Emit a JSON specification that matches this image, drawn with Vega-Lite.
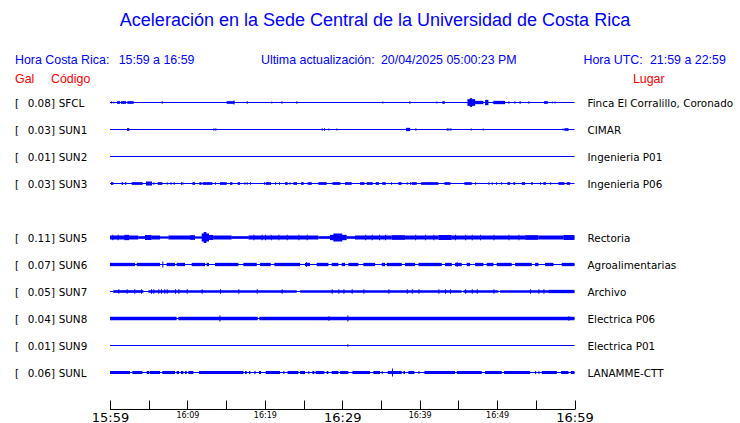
{
  "$schema": "https://vega.github.io/schema/vega-lite/v6.json",
  "width": 740,
  "height": 423,
  "autosize": "none",
  "padding": 0,
  "background": "white",
  "data": {"values": [{}]},
  "datasets": {
    "stations": [
      {"s": "SFCL", "r": 0, "gal": 0.08, "lugar": "Finca El Corralillo, Coronado"},
      {"s": "SUN1", "r": 1, "gal": 0.03, "lugar": "CIMAR"},
      {"s": "SUN2", "r": 2, "gal": 0.01, "lugar": "Ingenieria P01"},
      {"s": "SUN3", "r": 3, "gal": 0.03, "lugar": "Ingenieria P06"},
      {"s": "SUN5", "r": 5, "gal": 0.11, "lugar": "Rectoria"},
      {"s": "SUN6", "r": 6, "gal": 0.07, "lugar": "Agroalimentarias"},
      {"s": "SUN7", "r": 7, "gal": 0.05, "lugar": "Archivo"},
      {"s": "SUN8", "r": 8, "gal": 0.04, "lugar": "Electrica P06"},
      {"s": "SUN9", "r": 9, "gal": 0.01, "lugar": "Electrica P01"},
      {"s": "SUNL", "r": 10, "gal": 0.06, "lugar": "LANAMME-CTT"}
    ],
    "seg": [
      {"s": "SFCL", "t0": 0.13, "t1": 0.26, "pp": 2},
      {"s": "SFCL", "t0": 0.43, "t1": 0.56, "pp": 2},
      {"s": "SFCL", "t0": 0.9, "t1": 1.29, "pp": 2.7},
      {"s": "SFCL", "t0": 1.42, "t1": 2.07, "pp": 2.7},
      {"s": "SFCL", "t0": 2.24, "t1": 3.06, "pp": 2.7},
      {"s": "SFCL", "t0": 6.68, "t1": 6.81, "pp": 2.7},
      {"s": "SFCL", "t0": 15.07, "t1": 16.06, "pp": 2.7},
      {"s": "SFCL", "t0": 15.95, "t1": 16.08, "pp": 4},
      {"s": "SFCL", "t0": 17.66, "t1": 17.79, "pp": 2.7},
      {"s": "SFCL", "t0": 20.84, "t1": 20.97, "pp": 2},
      {"s": "SFCL", "t0": 22.14, "t1": 22.27, "pp": 2.7},
      {"s": "SFCL", "t0": 24.07, "t1": 24.2, "pp": 2.7},
      {"s": "SFCL", "t0": 35.18, "t1": 35.31, "pp": 2},
      {"s": "SFCL", "t0": 38.67, "t1": 38.8, "pp": 2.7},
      {"s": "SFCL", "t0": 42.16, "t1": 42.29, "pp": 2},
      {"s": "SFCL", "t0": 42.94, "t1": 43.24, "pp": 2.7},
      {"s": "SFCL", "t0": 46.17, "t1": 47.16, "pp": 6.7},
      {"s": "SFCL", "t0": 46.48, "t1": 46.79, "pp": 8.7},
      {"s": "SFCL", "t0": 47.16, "t1": 48.23, "pp": 3.3},
      {"s": "SFCL", "t0": 48.45, "t1": 48.88, "pp": 5.3},
      {"s": "SFCL", "t0": 49.44, "t1": 49.57, "pp": 2},
      {"s": "SFCL", "t0": 49.53, "t1": 51.03, "pp": 3.3},
      {"s": "SFCL", "t0": 51.46, "t1": 51.59, "pp": 2.7},
      {"s": "SFCL", "t0": 52.24, "t1": 52.37, "pp": 2.7},
      {"s": "SFCL", "t0": 52.89, "t1": 53.06, "pp": 2.7},
      {"s": "SFCL", "t0": 54.05, "t1": 54.18, "pp": 2.7},
      {"s": "SFCL", "t0": 56.07, "t1": 56.55, "pp": 2.7},
      {"s": "SFCL", "t0": 57.06, "t1": 57.19, "pp": 2},
      {"s": "SFCL", "t0": 57.41, "t1": 57.54, "pp": 2},

      {"s": "SUN1", "t0": 2.2, "t1": 2.5, "pp": 2.7},
      {"s": "SUN1", "t0": 13.35, "t1": 13.48, "pp": 2.7},
      {"s": "SUN1", "t0": 13.61, "t1": 13.74, "pp": 2.7},
      {"s": "SUN1", "t0": 27.35, "t1": 27.48, "pp": 2.7},
      {"s": "SUN1", "t0": 27.65, "t1": 27.78, "pp": 2.7},
      {"s": "SUN1", "t0": 28.21, "t1": 28.34, "pp": 2},
      {"s": "SUN1", "t0": 29.24, "t1": 29.37, "pp": 2},
      {"s": "SUN1", "t0": 38.24, "t1": 38.76, "pp": 3.3},
      {"s": "SUN1", "t0": 39.45, "t1": 39.58, "pp": 2.7},
      {"s": "SUN1", "t0": 43.5, "t1": 43.63, "pp": 2.7},
      {"s": "SUN1", "t0": 43.71, "t1": 43.84, "pp": 2.7},
      {"s": "SUN1", "t0": 43.97, "t1": 44.1, "pp": 2.7},
      {"s": "SUN1", "t0": 46.6, "t1": 46.73, "pp": 2},
      {"s": "SUN1", "t0": 48.15, "t1": 48.28, "pp": 2},
      {"s": "SUN1", "t0": 58.44, "t1": 58.57, "pp": 2},
      {"s": "SUN1", "t0": 58.7, "t1": 59.22, "pp": 2.7},

      {"s": "SUN3", "t0": 0.13, "t1": 0.43, "pp": 2.7},
      {"s": "SUN3", "t0": 1.51, "t1": 1.72, "pp": 2.7},
      {"s": "SUN3", "t0": 1.94, "t1": 2.11, "pp": 2.7},
      {"s": "SUN3", "t0": 2.8, "t1": 4.22, "pp": 2.7},
      {"s": "SUN3", "t0": 4.65, "t1": 5.43, "pp": 4},
      {"s": "SUN3", "t0": 5.6, "t1": 5.73, "pp": 2.7},
      {"s": "SUN3", "t0": 6.16, "t1": 6.76, "pp": 2.7},
      {"s": "SUN3", "t0": 7.32, "t1": 7.45, "pp": 2.7},
      {"s": "SUN3", "t0": 7.8, "t1": 7.93, "pp": 2.7},
      {"s": "SUN3", "t0": 8.23, "t1": 8.36, "pp": 2.7},
      {"s": "SUN3", "t0": 9.17, "t1": 9.3, "pp": 2.7},
      {"s": "SUN3", "t0": 9.35, "t1": 9.48, "pp": 2.7},
      {"s": "SUN3", "t0": 10.64, "t1": 10.98, "pp": 2.7},
      {"s": "SUN3", "t0": 11.54, "t1": 11.84, "pp": 2.7},
      {"s": "SUN3", "t0": 11.97, "t1": 13.22, "pp": 2.7},
      {"s": "SUN3", "t0": 13.57, "t1": 13.7, "pp": 2.7},
      {"s": "SUN3", "t0": 14.21, "t1": 15.07, "pp": 2.7},
      {"s": "SUN3", "t0": 15.5, "t1": 15.81, "pp": 2.7},
      {"s": "SUN3", "t0": 16.49, "t1": 16.8, "pp": 2.7},
      {"s": "SUN3", "t0": 17.36, "t1": 17.49, "pp": 2.7},
      {"s": "SUN3", "t0": 17.66, "t1": 17.79, "pp": 2.7},
      {"s": "SUN3", "t0": 18.09, "t1": 18.22, "pp": 2.7},
      {"s": "SUN3", "t0": 19.9, "t1": 20.03, "pp": 2.7},
      {"s": "SUN3", "t0": 20.11, "t1": 20.8, "pp": 2.7},
      {"s": "SUN3", "t0": 21.32, "t1": 21.45, "pp": 2.7},
      {"s": "SUN3", "t0": 21.83, "t1": 21.96, "pp": 2.7},
      {"s": "SUN3", "t0": 22.61, "t1": 22.96, "pp": 2.7},
      {"s": "SUN3", "t0": 23.17, "t1": 23.3, "pp": 2.7},
      {"s": "SUN3", "t0": 23.69, "t1": 24.16, "pp": 2.7},
      {"s": "SUN3", "t0": 24.68, "t1": 25.02, "pp": 2.7},
      {"s": "SUN3", "t0": 25.54, "t1": 26.06, "pp": 2.7},
      {"s": "SUN3", "t0": 26.92, "t1": 27.99, "pp": 2.7},
      {"s": "SUN3", "t0": 28.73, "t1": 29.76, "pp": 2.7},
      {"s": "SUN3", "t0": 30.36, "t1": 31.22, "pp": 2.7},
      {"s": "SUN3", "t0": 32.3, "t1": 32.86, "pp": 2.7},
      {"s": "SUN3", "t0": 33.16, "t1": 33.94, "pp": 2.7},
      {"s": "SUN3", "t0": 34.32, "t1": 34.75, "pp": 2.7},
      {"s": "SUN3", "t0": 35.18, "t1": 35.62, "pp": 2.7},
      {"s": "SUN3", "t0": 36.3, "t1": 36.43, "pp": 2.7},
      {"s": "SUN3", "t0": 37.25, "t1": 37.68, "pp": 2.7},
      {"s": "SUN3", "t0": 38.33, "t1": 38.46, "pp": 2.7},
      {"s": "SUN3", "t0": 38.76, "t1": 38.89, "pp": 2.7},
      {"s": "SUN3", "t0": 38.98, "t1": 39.62, "pp": 2.7},
      {"s": "SUN3", "t0": 40.18, "t1": 42.42, "pp": 2.7},
      {"s": "SUN3", "t0": 43.2, "t1": 43.97, "pp": 2.7},
      {"s": "SUN3", "t0": 45.78, "t1": 46.73, "pp": 2.7},
      {"s": "SUN3", "t0": 47.16, "t1": 47.29, "pp": 2.7},
      {"s": "SUN3", "t0": 48.88, "t1": 49.01, "pp": 2.7},
      {"s": "SUN3", "t0": 49.31, "t1": 49.44, "pp": 2.7},
      {"s": "SUN3", "t0": 49.87, "t1": 50.0, "pp": 2.7},
      {"s": "SUN3", "t0": 50.52, "t1": 50.65, "pp": 2.7},
      {"s": "SUN3", "t0": 51.33, "t1": 51.68, "pp": 2.7},
      {"s": "SUN3", "t0": 52.11, "t1": 52.33, "pp": 2.7},
      {"s": "SUN3", "t0": 53.19, "t1": 53.62, "pp": 2.7},
      {"s": "SUN3", "t0": 54.39, "t1": 54.61, "pp": 2.7},
      {"s": "SUN3", "t0": 55.56, "t1": 55.69, "pp": 2.7},
      {"s": "SUN3", "t0": 55.99, "t1": 56.29, "pp": 2.7},
      {"s": "SUN3", "t0": 56.85, "t1": 56.98, "pp": 2.7},
      {"s": "SUN3", "t0": 57.92, "t1": 58.7, "pp": 2.7},
      {"s": "SUN3", "t0": 59.0, "t1": 59.43, "pp": 2.7},

      {"s": "SUN5", "t0": 0, "t1": 3.66, "pp": 4},
      {"s": "SUN5", "t0": 3.66, "t1": 4.52, "pp": 2.7},
      {"s": "SUN5", "t0": 4.52, "t1": 5.38, "pp": 5},
      {"s": "SUN5", "t0": 5.38, "t1": 6.46, "pp": 4},
      {"s": "SUN5", "t0": 6.46, "t1": 7.54, "pp": 2.3},
      {"s": "SUN5", "t0": 7.54, "t1": 10.34, "pp": 4},
      {"s": "SUN5", "t0": 10.34, "t1": 10.98, "pp": 4.7},
      {"s": "SUN5", "t0": 10.98, "t1": 11.84, "pp": 2.3},
      {"s": "SUN5", "t0": 11.84, "t1": 12.79, "pp": 8},
      {"s": "SUN5", "t0": 12.1, "t1": 12.45, "pp": 11},
      {"s": "SUN5", "t0": 12.79, "t1": 13.35, "pp": 5},
      {"s": "SUN5", "t0": 13.35, "t1": 15.72, "pp": 4},
      {"s": "SUN5", "t0": 15.72, "t1": 17.87, "pp": 2.7},
      {"s": "SUN5", "t0": 17.87, "t1": 26.92, "pp": 4},
      {"s": "SUN5", "t0": 26.92, "t1": 28.42, "pp": 2.7},
      {"s": "SUN5", "t0": 28.42, "t1": 30.58, "pp": 5.3},
      {"s": "SUN5", "t0": 28.85, "t1": 30.0, "pp": 8},
      {"s": "SUN5", "t0": 30.58, "t1": 31.65, "pp": 2.7},
      {"s": "SUN5", "t0": 31.65, "t1": 36.39, "pp": 4},
      {"s": "SUN5", "t0": 36.39, "t1": 38.11, "pp": 4.7},
      {"s": "SUN5", "t0": 38.11, "t1": 42.42, "pp": 4},
      {"s": "SUN5", "t0": 42.42, "t1": 44.14, "pp": 5},
      {"s": "SUN5", "t0": 44.14, "t1": 53.62, "pp": 4},
      {"s": "SUN5", "t0": 53.62, "t1": 55.34, "pp": 4.7},
      {"s": "SUN5", "t0": 55.34, "t1": 58.57, "pp": 4},
      {"s": "SUN5", "t0": 58.57, "t1": 60, "pp": 5},
      {"s": "SUN5", "t0": 0.3, "t1": 0.43, "pp": 5.3},
      {"s": "SUN5", "t0": 0.99, "t1": 1.12, "pp": 5.3},
      {"s": "SUN5", "t0": 1.85, "t1": 2.45, "pp": 5.3},
      {"s": "SUN5", "t0": 18.52, "t1": 18.65, "pp": 5.7},
      {"s": "SUN5", "t0": 19.59, "t1": 19.72, "pp": 5.7},
      {"s": "SUN5", "t0": 20.03, "t1": 20.16, "pp": 5.7},
      {"s": "SUN5", "t0": 20.76, "t1": 20.89, "pp": 5.7},
      {"s": "SUN5", "t0": 21.75, "t1": 21.88, "pp": 5.7},
      {"s": "SUN5", "t0": 22.83, "t1": 22.96, "pp": 5.7},
      {"s": "SUN5", "t0": 24.33, "t1": 24.46, "pp": 5.7},
      {"s": "SUN5", "t0": 25.41, "t1": 25.54, "pp": 5.7},
      {"s": "SUN5", "t0": 32.95, "t1": 33.08, "pp": 5.7},
      {"s": "SUN5", "t0": 33.81, "t1": 33.94, "pp": 5.7},
      {"s": "SUN5", "t0": 34.75, "t1": 34.88, "pp": 5.7},
      {"s": "SUN5", "t0": 35.53, "t1": 35.66, "pp": 5.7},
      {"s": "SUN5", "t0": 39.41, "t1": 39.54, "pp": 5.7},
      {"s": "SUN5", "t0": 40.7, "t1": 40.83, "pp": 5.7},
      {"s": "SUN5", "t0": 41.77, "t1": 41.9, "pp": 5.7},
      {"s": "SUN5", "t0": 44.57, "t1": 44.7, "pp": 5.7},
      {"s": "SUN5", "t0": 45.87, "t1": 46.0, "pp": 5.7},
      {"s": "SUN5", "t0": 46.73, "t1": 46.86, "pp": 5.7},
      {"s": "SUN5", "t0": 47.8, "t1": 47.93, "pp": 5.7},
      {"s": "SUN5", "t0": 49.53, "t1": 49.66, "pp": 5.7},
      {"s": "SUN5", "t0": 51.46, "t1": 51.59, "pp": 5.7},
      {"s": "SUN5", "t0": 52.76, "t1": 52.89, "pp": 5.7},

      {"s": "SUN6", "t0": 0, "t1": 3.23, "pp": 3.3},
      {"s": "SUN6", "t0": 3.45, "t1": 6.46, "pp": 3.3},
      {"s": "SUN6", "t0": 6.76, "t1": 6.89, "pp": 6},
      {"s": "SUN6", "t0": 7.32, "t1": 8.4, "pp": 3.3},
      {"s": "SUN6", "t0": 8.61, "t1": 9.69, "pp": 3.3},
      {"s": "SUN6", "t0": 10.55, "t1": 12.27, "pp": 3.3},
      {"s": "SUN6", "t0": 12.49, "t1": 12.79, "pp": 3.3},
      {"s": "SUN6", "t0": 13.57, "t1": 16.58, "pp": 3.3},
      {"s": "SUN6", "t0": 17.23, "t1": 18.95, "pp": 3.3},
      {"s": "SUN6", "t0": 19.38, "t1": 20.76, "pp": 3.3},
      {"s": "SUN6", "t0": 21.23, "t1": 24.55, "pp": 3.3},
      {"s": "SUN6", "t0": 25.19, "t1": 25.84, "pp": 3.3},
      {"s": "SUN6", "t0": 25.32, "t1": 25.45, "pp": 4.3},
      {"s": "SUN6", "t0": 26.7, "t1": 28.21, "pp": 3.3},
      {"s": "SUN6", "t0": 28.64, "t1": 29.5, "pp": 3.3},
      {"s": "SUN6", "t0": 29.93, "t1": 30.36, "pp": 3.3},
      {"s": "SUN6", "t0": 30.79, "t1": 32.08, "pp": 3.3},
      {"s": "SUN6", "t0": 32.73, "t1": 34.24, "pp": 3.3},
      {"s": "SUN6", "t0": 35.1, "t1": 35.53, "pp": 3.3},
      {"s": "SUN6", "t0": 35.75, "t1": 37.68, "pp": 3.3},
      {"s": "SUN6", "t0": 38.11, "t1": 39.41, "pp": 3.3},
      {"s": "SUN6", "t0": 39.84, "t1": 42.85, "pp": 3.3},
      {"s": "SUN6", "t0": 43.28, "t1": 44.14, "pp": 3.3},
      {"s": "SUN6", "t0": 44.57, "t1": 45.43, "pp": 3.3},
      {"s": "SUN6", "t0": 44.79, "t1": 44.92, "pp": 4.3},
      {"s": "SUN6", "t0": 46.08, "t1": 46.51, "pp": 3.3},
      {"s": "SUN6", "t0": 47.16, "t1": 48.23, "pp": 3.3},
      {"s": "SUN6", "t0": 48.66, "t1": 49.53, "pp": 3.3},
      {"s": "SUN6", "t0": 49.96, "t1": 51.89, "pp": 3.3},
      {"s": "SUN6", "t0": 52.33, "t1": 54.48, "pp": 3.3},
      {"s": "SUN6", "t0": 54.91, "t1": 55.34, "pp": 3.3},
      {"s": "SUN6", "t0": 56.2, "t1": 57.28, "pp": 3.3},
      {"s": "SUN6", "t0": 58.35, "t1": 60, "pp": 3.3},

      {"s": "SUN7", "t0": 0.43, "t1": 4.31, "pp": 2.7},
      {"s": "SUN7", "t0": 4.95, "t1": 24.12, "pp": 2.7},
      {"s": "SUN7", "t0": 24.55, "t1": 45.43, "pp": 2.7},
      {"s": "SUN7", "t0": 45.65, "t1": 50.17, "pp": 2.7},
      {"s": "SUN7", "t0": 50.39, "t1": 56.63, "pp": 2.7},
      {"s": "SUN7", "t0": 56.63, "t1": 60, "pp": 3.3},
      {"s": "SUN7", "t0": 1.08, "t1": 1.21, "pp": 4.7},
      {"s": "SUN7", "t0": 2.15, "t1": 2.28, "pp": 4.7},
      {"s": "SUN7", "t0": 3.14, "t1": 3.27, "pp": 4.7},
      {"s": "SUN7", "t0": 4.01, "t1": 4.14, "pp": 4.7},
      {"s": "SUN7", "t0": 5.3, "t1": 5.43, "pp": 4.7},
      {"s": "SUN7", "t0": 5.6, "t1": 5.73, "pp": 4.7},
      {"s": "SUN7", "t0": 6.24, "t1": 6.37, "pp": 4.7},
      {"s": "SUN7", "t0": 6.59, "t1": 6.72, "pp": 4.7},
      {"s": "SUN7", "t0": 7.02, "t1": 7.15, "pp": 4.7},
      {"s": "SUN7", "t0": 7.32, "t1": 7.45, "pp": 4.7},
      {"s": "SUN7", "t0": 8.4, "t1": 8.53, "pp": 4.7},
      {"s": "SUN7", "t0": 8.83, "t1": 8.96, "pp": 4.7},
      {"s": "SUN7", "t0": 9.91, "t1": 10.04, "pp": 4.7},
      {"s": "SUN7", "t0": 11.84, "t1": 11.97, "pp": 4.7},
      {"s": "SUN7", "t0": 14.21, "t1": 14.34, "pp": 4.7},
      {"s": "SUN7", "t0": 16.58, "t1": 16.71, "pp": 4.7},
      {"s": "SUN7", "t0": 18.95, "t1": 19.08, "pp": 4.7},
      {"s": "SUN7", "t0": 22.18, "t1": 22.31, "pp": 4.7},
      {"s": "SUN7", "t0": 28.64, "t1": 28.77, "pp": 4.7},
      {"s": "SUN7", "t0": 29.5, "t1": 29.63, "pp": 4.7},
      {"s": "SUN7", "t0": 30.15, "t1": 30.28, "pp": 4.7},
      {"s": "SUN7", "t0": 31.22, "t1": 31.35, "pp": 4.7},
      {"s": "SUN7", "t0": 32.73, "t1": 32.86, "pp": 4.7},
      {"s": "SUN7", "t0": 35.96, "t1": 36.09, "pp": 4.7},
      {"s": "SUN7", "t0": 38.33, "t1": 38.46, "pp": 4.7},
      {"s": "SUN7", "t0": 38.98, "t1": 39.11, "pp": 4.7},
      {"s": "SUN7", "t0": 39.84, "t1": 39.97, "pp": 4.7},
      {"s": "SUN7", "t0": 42.42, "t1": 42.55, "pp": 4.7},
      {"s": "SUN7", "t0": 43.28, "t1": 43.41, "pp": 4.7},
      {"s": "SUN7", "t0": 43.93, "t1": 44.06, "pp": 4.7},
      {"s": "SUN7", "t0": 45.87, "t1": 46.0, "pp": 4.7},
      {"s": "SUN7", "t0": 46.73, "t1": 46.86, "pp": 4.7},
      {"s": "SUN7", "t0": 47.37, "t1": 47.5, "pp": 4.7},
      {"s": "SUN7", "t0": 49.53, "t1": 49.66, "pp": 4.7},
      {"s": "SUN7", "t0": 54.26, "t1": 54.39, "pp": 4.7},
      {"s": "SUN7", "t0": 55.34, "t1": 55.47, "pp": 4.7},
      {"s": "SUN7", "t0": 55.99, "t1": 56.12, "pp": 4.7},

      {"s": "SUN8", "t0": 0, "t1": 8.61, "pp": 3.7},
      {"s": "SUN8", "t0": 8.83, "t1": 19.08, "pp": 3.7},
      {"s": "SUN8", "t0": 19.29, "t1": 60, "pp": 3.7},
      {"s": "SUN8", "t0": 14.13, "t1": 14.26, "pp": 6},
      {"s": "SUN8", "t0": 30.66, "t1": 30.79, "pp": 6},
      {"s": "SUN8", "t0": 28.21, "t1": 28.34, "pp": 4.3},
      {"s": "SUN8", "t0": 59.22, "t1": 59.35, "pp": 4.3},

      {"s": "SUN9", "t0": 30.66, "t1": 30.79, "pp": 2.7},

      {"s": "SUNL", "t0": 0, "t1": 2.58, "pp": 3},
      {"s": "SUNL", "t0": 2.89, "t1": 4.18, "pp": 3},
      {"s": "SUNL", "t0": 4.74, "t1": 5.08, "pp": 3},
      {"s": "SUNL", "t0": 5.17, "t1": 6.46, "pp": 3},
      {"s": "SUNL", "t0": 6.76, "t1": 8.4, "pp": 3},
      {"s": "SUNL", "t0": 8.61, "t1": 8.91, "pp": 3},
      {"s": "SUNL", "t0": 9.17, "t1": 9.47, "pp": 3},
      {"s": "SUNL", "t0": 9.69, "t1": 9.91, "pp": 3},
      {"s": "SUNL", "t0": 10.12, "t1": 10.77, "pp": 3},
      {"s": "SUNL", "t0": 11.5, "t1": 17.23, "pp": 3},
      {"s": "SUNL", "t0": 17.44, "t1": 17.66, "pp": 3},
      {"s": "SUNL", "t0": 17.96, "t1": 18.13, "pp": 3},
      {"s": "SUNL", "t0": 18.65, "t1": 18.82, "pp": 3},
      {"s": "SUNL", "t0": 19.25, "t1": 19.51, "pp": 3},
      {"s": "SUNL", "t0": 20.11, "t1": 21.96, "pp": 3},
      {"s": "SUNL", "t0": 22.39, "t1": 22.52, "pp": 3},
      {"s": "SUNL", "t0": 22.95, "t1": 24.33, "pp": 3},
      {"s": "SUNL", "t0": 24.55, "t1": 25.19, "pp": 3},
      {"s": "SUNL", "t0": 25.62, "t1": 25.75, "pp": 3},
      {"s": "SUNL", "t0": 26.14, "t1": 26.4, "pp": 3},
      {"s": "SUNL", "t0": 26.57, "t1": 27.69, "pp": 3},
      {"s": "SUNL", "t0": 27.99, "t1": 28.21, "pp": 3},
      {"s": "SUNL", "t0": 28.64, "t1": 29.5, "pp": 3},
      {"s": "SUNL", "t0": 29.72, "t1": 30.79, "pp": 3},
      {"s": "SUNL", "t0": 31.31, "t1": 33.59, "pp": 3},
      {"s": "SUNL", "t0": 34.02, "t1": 34.88, "pp": 3},
      {"s": "SUNL", "t0": 35.1, "t1": 35.23, "pp": 3},
      {"s": "SUNL", "t0": 35.87, "t1": 37.68, "pp": 3},
      {"s": "SUNL", "t0": 36.42, "t1": 36.55, "pp": 8},
      {"s": "SUNL", "t0": 37.9, "t1": 38.11, "pp": 3},
      {"s": "SUNL", "t0": 38.54, "t1": 39.32, "pp": 3},
      {"s": "SUNL", "t0": 39.84, "t1": 39.97, "pp": 3},
      {"s": "SUNL", "t0": 40.61, "t1": 44.57, "pp": 3},
      {"s": "SUNL", "t0": 44.79, "t1": 48.02, "pp": 3},
      {"s": "SUNL", "t0": 48.45, "t1": 50.6, "pp": 3},
      {"s": "SUNL", "t0": 50.9, "t1": 54.26, "pp": 3},
      {"s": "SUNL", "t0": 54.91, "t1": 55.04, "pp": 3},
      {"s": "SUNL", "t0": 55.34, "t1": 55.47, "pp": 3},
      {"s": "SUNL", "t0": 55.77, "t1": 57.71, "pp": 3},
      {"s": "SUNL", "t0": 58.27, "t1": 59.22, "pp": 3},
      {"s": "SUNL", "t0": 59.52, "t1": 60, "pp": 3}
    ]
  },
  "layer": [
    {
      "data": {"name": "stations"},
      "mark": {"type": "rule", "color": "#0000ff", "strokeWidth": 1},
      "encoding": {
        "x": {"datum": 0, "type": "quantitative"},
        "x2": {"datum": 60},
        "y": {"field": "r", "type": "quantitative", "axis": null}
      }
    },
    {
      "data": {"name": "seg"},
      "transform": [
        {"lookup": "s", "from": {"data": {"name": "stations"}, "key": "s", "fields": ["r"]}}
      ],
      "mark": {"type": "rule", "color": "#0000ff", "strokeCap": "butt"},
      "encoding": {
        "x": {
          "field": "t0",
          "type": "quantitative",
          "scale": {"domain": [0, 60], "range": [110, 574.5], "nice": false, "zero": false},
          "axis": {
            "title": null,
            "values": [0, 5, 10, 15, 20, 25, 30, 35, 40, 45, 50, 55, 60],
            "labelExpr": "datum.value % 10 == 0 ? ['15:59','16:09','16:19','16:29','16:39','16:49','16:59'][datum.value / 10] : ''",
            "labelFontSize": {"condition": {"test": "datum.value % 30 == 0", "value": 13}, "value": 8},
            "labelFont": "DejaVu Sans",
            "labelFontWeight": "normal",
            "labelColor": "black",
            "labelFlush": false,
            "labelOverlap": false,
            "labelBound": false,
            "domain": true,
            "domainWidth": 1,
            "domainOpacity": 1,
            "domainColor": "black",
            "tickColor": "black",
            "tickSize": -9,
            "labelPadding": 11,
            "grid": false,
            "offset": -14
          }
        },
        "x2": {"field": "t1"},
        "y": {
          "field": "r",
          "type": "quantitative",
          "scale": {"domain": [0, 10], "range": [102.5, 372.5], "nice": false, "zero": false},
          "axis": null
        },
        "strokeWidth": {
          "field": "pp",
          "type": "quantitative",
          "scale": {"domain": [0, 10], "range": [0, 10], "zero": true},
          "legend": null
        }
      }
    },
    {
      "mark": {"type": "rule", "color": "black", "strokeWidth": 1},
      "encoding": {
        "x": {"datum": 0, "type": "quantitative"},
        "x2": {"datum": 60},
        "y": {"datum": 11.37, "type": "quantitative", "axis": null}
      }
    },
    {
      "data": {"name": "stations"},
      "mark": {"type": "text", "text": "[", "align": "left", "baseline": "middle", "dy": 1, "font": "DejaVu Sans", "fontSize": 10.4, "color": "black"},
      "encoding": {
        "x": {"datum": -12.27, "type": "quantitative"},
        "y": {"field": "r", "type": "quantitative", "axis": null}
      }
    },
    {
      "data": {"name": "stations"},
      "mark": {"type": "text", "align": "right", "baseline": "middle", "dy": 1, "font": "DejaVu Sans", "fontSize": 10.4, "color": "black"},
      "encoding": {
        "x": {"datum": -7.65, "type": "quantitative"},
        "y": {"field": "r", "type": "quantitative", "axis": null},
        "text": {"field": "gal", "type": "quantitative", "format": ".2f"}
      }
    },
    {
      "data": {"name": "stations"},
      "mark": {"type": "text", "text": "]", "align": "left", "baseline": "middle", "dy": 1, "font": "DejaVu Sans", "fontSize": 10.4, "color": "black"},
      "encoding": {
        "x": {"datum": -7.62, "type": "quantitative"},
        "y": {"field": "r", "type": "quantitative", "axis": null}
      }
    },
    {
      "data": {"name": "stations"},
      "mark": {"type": "text", "align": "left", "baseline": "middle", "dy": 1, "font": "DejaVu Sans", "fontSize": 10.4, "color": "black"},
      "encoding": {
        "x": {"datum": -6.63, "type": "quantitative"},
        "y": {"field": "r", "type": "quantitative", "axis": null},
        "text": {"field": "s", "type": "nominal"}
      }
    },
    {
      "data": {"name": "stations"},
      "mark": {"type": "text", "align": "left", "baseline": "middle", "dy": 1, "font": "DejaVu Sans", "fontSize": 10.4, "color": "black"},
      "encoding": {
        "x": {"datum": 61.68, "type": "quantitative"},
        "y": {"field": "r", "type": "quantitative", "axis": null},
        "text": {"field": "lugar", "type": "nominal"}
      }
    },
    {
      "mark": {"type": "text", "text": "Aceleración en la Sede Central de la Universidad de Costa Rica", "align": "center", "baseline": "middle", "font": "Liberation Sans", "fontSize": 18, "color": "#0000ff"},
      "encoding": {"x": {"datum": 34.23, "type": "quantitative"}, "y": {"datum": -3.02, "type": "quantitative", "axis": null}}
    },
    {
      "mark": {"type": "text", "text": "Hora Costa Rica:", "align": "left", "baseline": "middle", "font": "Liberation Sans", "fontSize": 12.4, "color": "#0000ff"},
      "encoding": {"x": {"datum": -12.27, "type": "quantitative"}, "y": {"datum": -1.574, "type": "quantitative", "axis": null}}
    },
    {
      "mark": {"type": "text", "text": "15:59 a 16:59", "align": "left", "baseline": "middle", "font": "Liberation Sans", "fontSize": 12.4, "color": "#0000ff"},
      "encoding": {"x": {"datum": 1.12, "type": "quantitative"}, "y": {"datum": -1.574, "type": "quantitative", "axis": null}}
    },
    {
      "mark": {"type": "text", "text": "Ultima actualización:", "align": "left", "baseline": "middle", "font": "Liberation Sans", "fontSize": 12.4, "color": "#0000ff"},
      "encoding": {"x": {"datum": 19.5, "type": "quantitative"}, "y": {"datum": -1.574, "type": "quantitative", "axis": null}}
    },
    {
      "mark": {"type": "text", "text": "20/04/2025 05:00:23 PM", "align": "left", "baseline": "middle", "font": "Liberation Sans", "fontSize": 12.4, "color": "#0000ff"},
      "encoding": {"x": {"datum": 35.0, "type": "quantitative"}, "y": {"datum": -1.574, "type": "quantitative", "axis": null}}
    },
    {
      "mark": {"type": "text", "text": "Hora UTC:", "align": "left", "baseline": "middle", "font": "Liberation Sans", "fontSize": 12.4, "color": "#0000ff"},
      "encoding": {"x": {"datum": 61.16, "type": "quantitative"}, "y": {"datum": -1.574, "type": "quantitative", "axis": null}}
    },
    {
      "mark": {"type": "text", "text": "21:59 a 22:59", "align": "left", "baseline": "middle", "font": "Liberation Sans", "fontSize": 12.4, "color": "#0000ff"},
      "encoding": {"x": {"datum": 69.75, "type": "quantitative"}, "y": {"datum": -1.574, "type": "quantitative", "axis": null}}
    },
    {
      "mark": {"type": "text", "text": "Gal", "align": "left", "baseline": "middle", "font": "Liberation Sans", "fontSize": 12.4, "color": "#ff0000"},
      "encoding": {"x": {"datum": -12.27, "type": "quantitative"}, "y": {"datum": -0.87, "type": "quantitative", "axis": null}}
    },
    {
      "mark": {"type": "text", "text": "Código", "align": "left", "baseline": "middle", "font": "Liberation Sans", "fontSize": 12.4, "color": "#ff0000"},
      "encoding": {"x": {"datum": -7.62, "type": "quantitative"}, "y": {"datum": -0.87, "type": "quantitative", "axis": null}}
    },
    {
      "mark": {"type": "text", "text": "Lugar", "align": "left", "baseline": "middle", "font": "Liberation Sans", "fontSize": 12.4, "color": "#ff0000"},
      "encoding": {"x": {"datum": 67.55, "type": "quantitative"}, "y": {"datum": -0.87, "type": "quantitative", "axis": null}}
    }
  ],
  "config": {
    "view": {"stroke": null},
    "axisY": {"disable": true}
  }
}
